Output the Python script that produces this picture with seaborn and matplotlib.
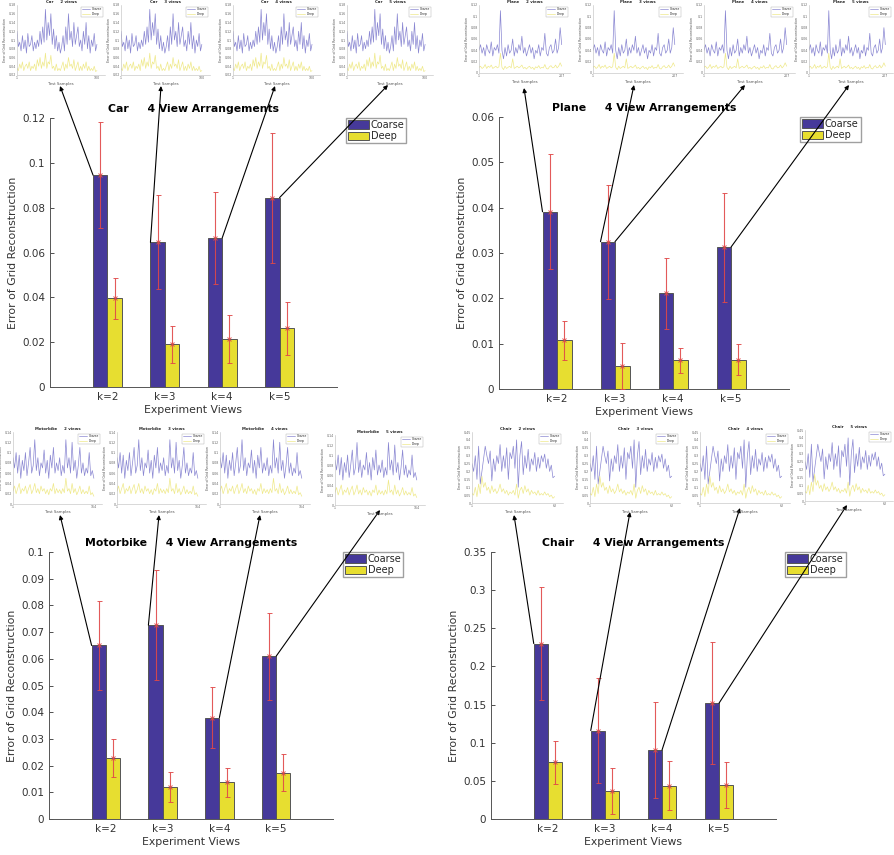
import numpy as np
import pandas as pd
import matplotlib
matplotlib.use('Agg')
import matplotlib.pyplot as plt
import seaborn as sns

sns.set_style('white')
plt.rcParams['font.family'] = ['DejaVu Sans']

# ---------------- data ----------------
views = ['k=2', 'k=3', 'k=4', 'k=5']
methods = ['Coarse', 'Deep']
inset_views = ['2 views', '3 views', '4 views', '5 views']

car_coarse = [0.0945, 0.0645, 0.0665, 0.0845]
car_deep = [0.0395, 0.0190, 0.0213, 0.0262]
car_coarse_err = [0.0235, 0.0210, 0.0205, 0.0290]
car_deep_err = [0.0093, 0.0084, 0.0108, 0.0118]

plane_coarse = [0.0391, 0.0325, 0.0211, 0.0313]
plane_deep = [0.0107, 0.0051, 0.0063, 0.0065]
plane_coarse_err = [0.0127, 0.0126, 0.0078, 0.0120]
plane_deep_err = [0.0043, 0.0050, 0.0028, 0.0035]

motor_coarse = [0.0650, 0.0726, 0.0380, 0.0610]
motor_deep = [0.0229, 0.0120, 0.0137, 0.0173]
motor_coarse_err = [0.0168, 0.0205, 0.0114, 0.0163]
motor_deep_err = [0.0070, 0.0057, 0.0055, 0.0069]

chair_coarse = [0.2300, 0.1160, 0.0903, 0.1518]
chair_deep = [0.0742, 0.0367, 0.0436, 0.0445]
chair_coarse_err = [0.0740, 0.0690, 0.0627, 0.0800]
chair_deep_err = [0.0277, 0.0295, 0.0318, 0.0300]

# per-sample errors shown in the small inset plots
car_samples_coarse = [0.12, 0.085, 0.095, 0.075, 0.11, 0.08, 0.10, 0.07, 0.115, 0.085,
                      0.09, 0.11, 0.075, 0.095, 0.08, 0.10, 0.085, 0.12, 0.09, 0.13,
                      0.095, 0.17, 0.10, 0.14, 0.11, 0.16, 0.09, 0.125, 0.08, 0.11,
                      0.075, 0.095, 0.07, 0.085, 0.11, 0.075, 0.13, 0.09, 0.16, 0.10,
                      0.12, 0.085, 0.14, 0.09, 0.11, 0.13, 0.085, 0.10, 0.075, 0.12,
                      0.09, 0.14, 0.08, 0.11, 0.07, 0.10, 0.085, 0.115, 0.075, 0.09]
car_samples_deep = [0.035, 0.03, 0.045, 0.035, 0.05, 0.03, 0.04, 0.045, 0.035, 0.05,
                    0.03, 0.04, 0.035, 0.045, 0.03, 0.055, 0.04, 0.06, 0.035, 0.05,
                    0.04, 0.07, 0.035, 0.05, 0.045, 0.065, 0.035, 0.04, 0.03, 0.045,
                    0.03, 0.035, 0.03, 0.04, 0.05, 0.03, 0.045, 0.035, 0.06, 0.04,
                    0.045, 0.035, 0.055, 0.03, 0.04, 0.05, 0.03, 0.04, 0.03, 0.045,
                    0.035, 0.05, 0.03, 0.04, 0.03, 0.035, 0.03, 0.04, 0.028, 0.03]

plane_samples_coarse = [0.04, 0.05, 0.035, 0.045, 0.03, 0.05, 0.04, 0.035, 0.055, 0.03,
                        0.045, 0.04, 0.05, 0.035, 0.11, 0.04, 0.025, 0.045, 0.03, 0.05,
                        0.035, 0.04, 0.06, 0.03, 0.045, 0.035, 0.05, 0.04, 0.065, 0.035,
                        0.045, 0.03, 0.04, 0.05, 0.035, 0.045, 0.025, 0.04, 0.035, 0.05,
                        0.03, 0.045, 0.04, 0.07, 0.035, 0.03, 0.045, 0.05, 0.035, 0.04,
                        0.06, 0.035, 0.045, 0.08, 0.05]
plane_samples_deep = [0.01, 0.012, 0.008, 0.01, 0.015, 0.008, 0.012, 0.01, 0.014, 0.008,
                      0.01, 0.012, 0.009, 0.011, 0.035, 0.01, 0.006, 0.012, 0.008, 0.01,
                      0.012, 0.009, 0.025, 0.008, 0.01, 0.012, 0.009, 0.011, 0.014, 0.008,
                      0.01, 0.007, 0.01, 0.012, 0.008, 0.01, 0.006, 0.011, 0.009, 0.013,
                      0.008, 0.01, 0.009, 0.015, 0.008, 0.007, 0.011, 0.013, 0.009, 0.01,
                      0.014, 0.009, 0.012, 0.018, 0.012]

motor_samples_coarse = [0.09, 0.07, 0.10, 0.06, 0.095, 0.05, 0.085, 0.065, 0.10, 0.055,
                        0.08, 0.11, 0.06, 0.075, 0.125, 0.065, 0.09, 0.055, 0.08, 0.07,
                        0.105, 0.06, 0.085, 0.05, 0.095, 0.07, 0.11, 0.06, 0.08, 0.065,
                        0.09, 0.055, 0.075, 0.06, 0.125, 0.07, 0.09, 0.06, 0.12, 0.065,
                        0.085, 0.05, 0.075, 0.11, 0.06, 0.08, 0.055, 0.07, 0.06, 0.10,
                        0.055, 0.065, 0.05]
motor_samples_deep = [0.025, 0.035, 0.02, 0.03, 0.04, 0.02, 0.03, 0.025, 0.035, 0.02,
                      0.03, 0.038, 0.02, 0.028, 0.04, 0.022, 0.03, 0.02, 0.035, 0.025,
                      0.03, 0.02, 0.028, 0.018, 0.03, 0.025, 0.04, 0.02, 0.03, 0.022,
                      0.028, 0.02, 0.03, 0.022, 0.05, 0.025, 0.03, 0.02, 0.04, 0.022,
                      0.03, 0.018, 0.025, 0.035, 0.02, 0.028, 0.02, 0.025, 0.02, 0.035,
                      0.018, 0.022, 0.015]

chair_samples_coarse = [0.25, 0.2, 0.3, 0.15, 0.36, 0.12, 0.2, 0.28, 0.36, 0.3,
                        0.25, 0.33, 0.14, 0.28, 0.2, 0.3, 0.25, 0.37, 0.2, 0.3,
                        0.22, 0.35, 0.15, 0.32, 0.28, 0.36, 0.22, 0.4, 0.1, 0.3,
                        0.39, 0.18, 0.3, 0.22, 0.34, 0.2, 0.28, 0.24, 0.32, 0.2,
                        0.29, 0.22, 0.3, 0.26, 0.31, 0.22, 0.28, 0.2, 0.24, 0.16, 0.17]
chair_samples_deep = [0.06, 0.05, 0.1, 0.04, 0.12, 0.06, 0.17, 0.1, 0.13, 0.08,
                      0.1, 0.06, 0.11, 0.07, 0.09, 0.06, 0.08, 0.12, 0.07, 0.09,
                      0.06, 0.08, 0.05, 0.07, 0.06, 0.08, 0.05, 0.12, 0.03, 0.08,
                      0.1, 0.06, 0.11, 0.07, 0.09, 0.05, 0.08, 0.06, 0.07, 0.05,
                      0.08, 0.05, 0.06, 0.05, 0.07, 0.05, 0.06, 0.04, 0.05, 0.03, 0.04]

car_n_samples, plane_n_samples, motor_n_samples, chair_n_samples = 100, 207, 164, 62

# ---------------- style / layout ----------------
COARSE = '#46399a'
DEEP = '#e7de30'
ERR = '#e04848'
TXT = '#333333'
SPINE = '#555555'
W, H = 894, 855

fig = plt.figure(figsize=(W / 100, H / 100), dpi=100)


def frac(box):
    l, t, r, b = box
    return [l / W, 1 - b / H, (r - l) / W, (b - t) / H]


panels = [
    dict(name='Car', coarse=car_coarse, deep=car_deep, cerr=car_coarse_err, derr=car_deep_err,
         ymax=0.12, ystep=0.02, box=(50, 118, 337, 387), leg_x=1.031,
         s_c=car_samples_coarse, s_d=car_samples_deep, n=car_n_samples,
         iy=(0.02, 0.18), istep=0.02,
         insets=[(17, 5, 105, 75), (121, 5, 210, 75), (233, 5, 320, 75), (347, 5, 433, 75)],
         arrows=[(0, 'l'), (1, 'l'), (2, 'r'), (3, 'r')],
         heads=[(60, 86), (161, 86), (275, 86), (388, 85)]),
    dict(name='Plane', coarse=plane_coarse, deep=plane_deep, cerr=plane_coarse_err, derr=plane_deep_err,
         ymax=0.06, ystep=0.01, box=(499, 117, 789, 389), leg_x=1.038,
         s_c=plane_samples_coarse, s_d=plane_samples_deep, n=plane_n_samples,
         iy=(0, 0.12), istep=0.02,
         insets=[(479, 5, 570, 73), (593, 5, 683, 73), (704, 5, 795, 73), (809, 5, 893, 73)],
         arrows=[(0, 'l'), (1, 'l'), (1, 'r'), (3, 'r')],
         heads=[(524, 88), (634, 85), (745, 85), (849, 85)]),
    dict(name='Motorbike', coarse=motor_coarse, deep=motor_deep, cerr=motor_coarse_err, derr=motor_deep_err,
         ymax=0.1, ystep=0.01, box=(49, 552, 333, 819), leg_x=1.035,
         s_c=motor_samples_coarse, s_d=motor_samples_deep, n=motor_n_samples,
         iy=(0, 0.14), istep=0.02,
         insets=[(13, 432, 102, 504), (117, 432, 206, 504), (220, 432, 310, 504), (335, 435, 425, 505)],
         arrows=[(0, 'l'), (1, 'l'), (2, 'r'), (3, 'r')],
         heads=[(60, 515), (159, 515), (260, 515), (380, 510)]),
    dict(name='Chair', coarse=chair_coarse, deep=chair_deep, cerr=chair_coarse_err, derr=chair_deep_err,
         ymax=0.35, ystep=0.05, box=(491, 552, 776, 819), leg_x=1.032,
         s_c=chair_samples_coarse, s_d=chair_samples_deep, n=chair_n_samples,
         iy=(0, 0.45), istep=0.05,
         insets=[(472, 432, 563, 503), (590, 432, 680, 503), (700, 432, 790, 503), (805, 430, 893, 501)],
         arrows=[(0, 'l'), (1, 'l'), (2, 'r'), (3, 'r')],
         heads=[(514, 515), (630, 512), (740, 508), (847, 505)]),
]


def fmt(v):
    return '%g' % round(v, 4)


for p in panels:
    # ----- main bar chart -----
    ax = fig.add_axes(frac(p['box']))
    df = pd.DataFrame({'view': views * 2,
                       'method': ['Coarse'] * 4 + ['Deep'] * 4,
                       'value': p['coarse'] + p['deep']})
    sns.barplot(data=df, x='view', y='value', hue='method', order=views, hue_order=methods,
                palette=[COARSE, DEEP], width=0.5, errorbar=None, saturation=1,
                edgecolor='#555555', linewidth=0.7, ax=ax)
    for cont, err in zip(ax.containers, [p['cerr'], p['derr']]):
        xs = [b.get_x() + b.get_width() / 2 for b in cont]
        hs = [b.get_height() for b in cont]
        ax.errorbar(xs, hs, yerr=err, fmt='x', color=ERR, ecolor=ERR, ms=3.5, mew=0.7,
                    elinewidth=0.8, capsize=1.8, capthick=0.6, alpha=0.9, zorder=4)
    ax.set_xlim(-1, 4)
    ax.set_ylim(0, p['ymax'])
    yt = np.arange(0, p['ymax'] + p['ystep'] / 2, p['ystep'])
    ax.set_yticks(yt)
    ax.set_yticklabels([fmt(v) for v in yt])
    ax.tick_params(axis='both', labelsize=7.5, colors=TXT, direction='in', length=3, width=0.6,
                   left=True, bottom=True)
    for s in ['top', 'right']:
        ax.spines[s].set_visible(False)
    for s in ['left', 'bottom']:
        ax.spines[s].set_color(SPINE)
        ax.spines[s].set_linewidth(0.7)
    ax.set_xlabel('Experiment Views', fontsize=7.8, color=TXT, labelpad=2)
    ax.set_ylabel('Error of Grid Reconstruction', fontsize=7.8, color=TXT, labelpad=3)
    ax.set_title(p['name'] + '     4 View Arrangements', fontsize=7.8, fontweight='bold',
                 color='black', pad=4)
    handles, labels = ax.get_legend_handles_labels()
    ax.legend(handles, labels, loc='upper left', bbox_to_anchor=(p['leg_x'], 1.0),
              borderaxespad=0, fontsize=7, frameon=True, fancybox=False, edgecolor='#888888',
              borderpad=0.2, handlelength=2.2, handleheight=1.0, handletextpad=0.15,
              labelspacing=0.15)

    # ----- arrows from bars to the inset plots -----
    coarse_bars = list(ax.containers[0])
    for (vi, side), (hx, hy) in zip(p['arrows'], p['heads']):
        b = coarse_bars[vi]
        bx = b.get_x() if side == 'l' else b.get_x() + b.get_width()
        ax.annotate('', xy=(hx / W, 1 - hy / H), xycoords='figure fraction',
                    xytext=(bx, b.get_height()), textcoords='data',
                    arrowprops=dict(arrowstyle='-|>', color='black', lw=0.8,
                                    shrinkA=0, shrinkB=0, mutation_scale=6),
                    annotation_clip=False, zorder=10)

    # ----- inset per-sample plots -----
    for ibox, vname in zip(p['insets'], inset_views):
        iax = fig.add_axes(frac(ibox))
        xc = np.linspace(1, p['n'], len(p['s_c']))
        xd = np.linspace(1, p['n'], len(p['s_d']))
        sns.lineplot(x=xc, y=p['s_c'], color='#8a87d2', lw=0.5, ax=iax, label='Coarse')
        sns.lineplot(x=xd, y=p['s_d'], color='#efe98a', lw=0.5, ax=iax, label='Deep')
        iax.set_xlim(1, p['n'] * 1.1)
        iax.set_ylim(*p['iy'])
        iyt = np.arange(p['iy'][0], p['iy'][1] + p['istep'] / 2, p['istep'])
        iax.set_yticks(iyt)
        iax.set_yticklabels([fmt(v) for v in iyt])
        iax.set_xticks([1, p['n']])
        iax.tick_params(labelsize=2.3, colors='#666666', length=1, width=0.3, pad=0.8,
                        direction='in')
        for s in ['top', 'right']:
            iax.spines[s].set_visible(False)
        for s in ['left', 'bottom']:
            iax.spines[s].set_color('#bbbbbb')
            iax.spines[s].set_linewidth(0.4)
        iax.set_xlabel('Test Samples', fontsize=2.8, color='#555555', labelpad=1)
        iax.set_ylabel('Error of Grid Reconstruction', fontsize=2.3, color='#555555', labelpad=1)
        iax.set_title(p['name'] + '     ' + vname, fontsize=2.8, fontweight='bold', pad=1.5)
        iax.legend(loc='upper right', fontsize=2.2, frameon=True, fancybox=False,
                   edgecolor='#aaaaaa', borderpad=0.3, handlelength=2.5, labelspacing=0.2,
                   framealpha=1).get_frame().set_linewidth(0.3)

fig.savefig('out.png', dpi=100)
